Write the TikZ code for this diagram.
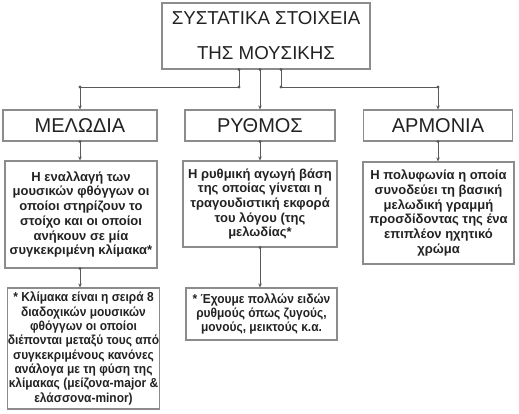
\documentclass[tikz,border=0pt]{standalone}
\usepackage{fontspec}
\setmainfont{Liberation Sans}
\newfontfamily\narrowfont[FakeStretch=0.92]{Liberation Sans}
\usetikzlibrary{arrows.meta}
\definecolor{boxGray}{HTML}{8C8C8C}
\definecolor{lineGray}{HTML}{5A5A5A}
\definecolor{textGray}{HTML}{222222}

\begin{document}
\begin{tikzpicture}[x=1pt, y=-1pt,
    box/.style={draw=boxGray, line width=1.1pt, inner sep=0pt, align=center, text=textGray},
    head/.style={box, minimum height=31pt, font=\fontsize{20}{35}\selectfont},
    desc/.style={box, font=\bfseries\fontsize{13}{14.7}\selectfont},
    note/.style={box, font=\narrowfont\bfseries\fontsize{13}{14.3}\selectfont},
    conn/.style={lineGray, line width=0.7pt, -{Stealth[length=4pt, width=3.5pt]}}]
    \useasboundingbox (0,0) rectangle (519,414);
    % title
    \node[box, minimum width=208pt, minimum height=66pt, font=\fontsize{18.7}{35}\selectfont]
        (title) at (266,36) {ΣΥΣΤΑΤΙΚΑ ΣΤΟΙΧΕΙΑ\\ΤΗΣ ΜΟΥΣΙΚΗΣ};
    % second level
    \node[head, minimum width=154pt] (mel) at (80,125.5) {ΜΕΛΩΔΙΑ};
    \node[head, minimum width=150pt] (rhy) at (260,125.5) {ΡΥΘΜΟΣ};
    \node[head, minimum width=149pt] (arm) at (438,125.5) {ΑΡΜΟΝΙΑ};
    % descriptions
    \node[desc, minimum width=152pt, minimum height=107pt] (meld) at (81,214.5)
        {Η εναλλαγή των\\μουσικών φθόγγων οι\\οποίοι στηρίζουν το\\στοίχο και οι οποίοι\\ανήκουν σε μία\\συγκεκριμένη κλίμακα*};
    \node[desc, minimum width=154pt, minimum height=86pt] (rhyd) at (260,204)
        {Η ρυθμική αγωγή βάση\\της οποίας γίνεται η\\τραγουδιστική εκφορά\\του λόγου (της\\μελωδίας*};
    \node[desc, minimum width=151pt, minimum height=102pt] (armd) at (438.5,213)
        {Η πολυφωνία η οποία\\συνοδεύει τη βασική\\μελωδική γραμμή\\προσδίδοντας της ένα\\επιπλέον ηχητικό\\χρώμα};
    % notes
    \node[note, minimum width=151pt, minimum height=121pt] (meln) at (83.5,348.5)
        {* Κλίμακα είναι η σειρά 8\\διαδοχικών μουσικών\\φθόγγων οι οποίοι\\διέπονται μεταξύ τους από\\συγκεκριμένους κανόνες\\ανάλογα με τη φύση της\\κλίμακας (μείζονα-major \&\\ελάσσονα-minor)};
    \node[note, minimum width=151pt, minimum height=52pt] (rhyn) at (261.5,314)
        {* Έχουμε πολλών ειδών\\ρυθμούς όπως ζυγούς,\\μονούς, μεικτούς κ.α.};
    % connectors
    \coordinate (jL) at (239,87);
    \coordinate (jR) at (281,87);
    \draw[conn] (title.south -| jL) -- (jL) -| (mel.north);
    \draw[conn] (title.south -| rhy.north) -- (rhy.north);
    \draw[conn] (title.south -| jR) -- (jR) -| (arm.north);
    \draw[conn] (mel.south) -- (mel.south |- meld.north);
    \draw[conn] (rhy.south) -- (rhy.south |- rhyd.north);
    \draw[conn] (arm.south) -- (arm.south |- armd.north);
    \draw[conn] (mel.south |- meld.south) -- (mel.south |- meln.north);
    \draw[conn] (rhy.south |- rhyd.south) -- (rhy.south |- rhyn.north);
    \foreach \p in {{title.south -| jL}, {title.south -| rhy.north}, {title.south -| jR},
                    jL, jR, {jL -| mel.north}, {jR -| arm.north},
                    mel.south, rhy.south, arm.south,
                    {mel.south |- meld.south}, {rhy.south |- rhyd.south}}
        \fill[lineGray] (\p) circle (1.6pt);
\end{tikzpicture}
\end{document}
